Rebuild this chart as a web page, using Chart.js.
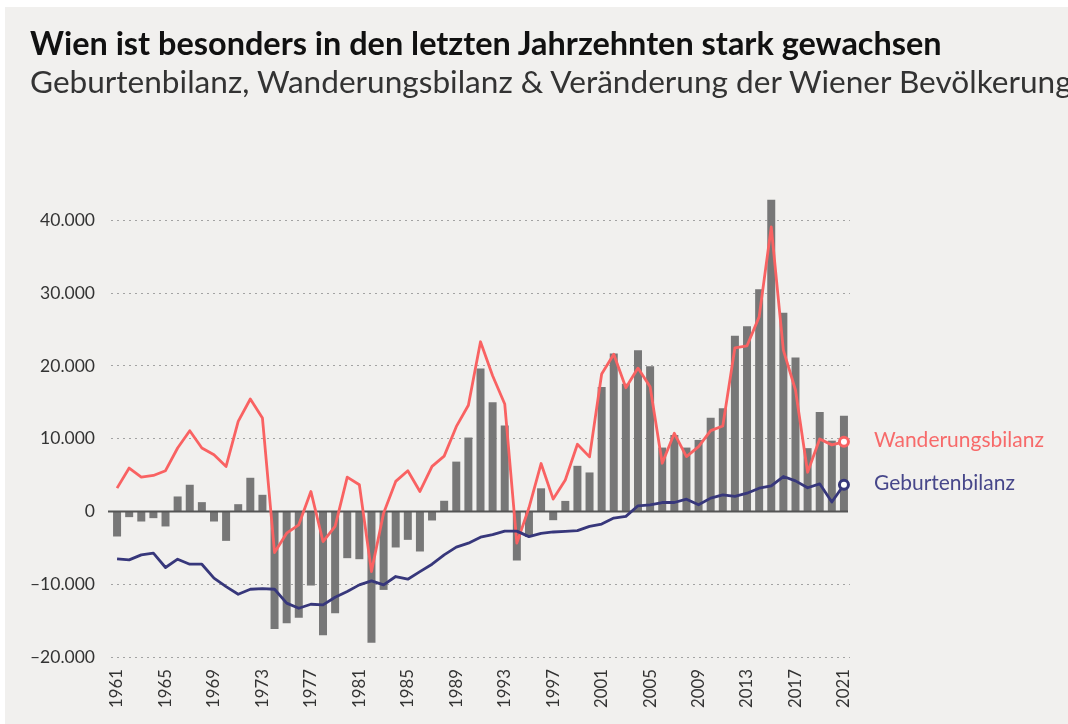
<!DOCTYPE html>
<html><head><meta charset="utf-8">
<script src="https://cdn.jsdelivr.net/npm/chart.js@4.4.1/dist/chart.umd.min.js"></script>
<style>
html,body{margin:0;padding:0;background:#fff;width:1068px;height:724px;overflow:hidden}
#card{position:absolute;left:5px;top:7px;right:0;bottom:0;background:#f1f0ee}
canvas{position:absolute;left:0;top:0}
.t{position:absolute;left:30px;white-space:nowrap;margin:0;font-family:Lato,"Open Sans",sans-serif}
#title{font-weight:700;color:#111}
#sub{font-weight:400;color:#333}
</style></head><body>
<div id="card"></div>
<canvas id="c" width="1068" height="724"></canvas>
<div id="title" class="t">Wien ist besonders in den letzten Jahrzehnten stark gewachsen</div>
<div id="sub" class="t">Geburtenbilanz, Wanderungsbilanz &amp; Veränderung der Wiener Bevölkerung</div>
<script>
const years = ['1961','1962','1963','1964','1965','1966','1967','1968','1969','1970',
'1971','1972','1973','1974','1975','1976','1977','1978','1979','1980',
'1981','1982','1983','1984','1985','1986','1987','1988','1989','1990',
'1991','1992','1993','1994','1995','1996','1997','1998','1999','2000',
'2001','2002','2003','2004','2005','2006','2007','2008','2009','2010',
'2011','2012','2013','2014','2015','2016','2017','2018','2019','2020','2021'];

const xTickLabels = ['1961','1965','1969','1973','1977','1981','1985','1989','1993','1997','2001','2005','2009','2013','2017','2021'];
const yTickValues = [-20000,-10000,0,10000,20000,30000,40000];
const yTickLabels = ['–20.000','–10.000','0','10.000','20.000','30.000','40.000'];

const veraenderung = [-3440,-780,-1380,-920,-2060,2060,3670,1280,-1380,-4040,
1000,4630,2290,-16150,-15370,-14590,-10180,-17020,-13990,-6420,
-6560,-18030,-10780,-4950,-3900,-5500,-1240,1470,6850,10160,
19650,15000,11820,-6740,-3500,3180,-1200,1450,6270,5360,
17100,21700,17550,22150,19970,8780,10510,8780,9830,12890,
14170,24140,25460,30540,42830,27290,21170,8700,13680,9730,13140];

const wanderung = [3210,5960,4720,4950,5600,8720,11100,8720,7800,6190,
12390,15460,12840,-5640,-2980,-1830,2750,-4130,-2060,4720,
3670,-8260,-230,4130,5600,2750,6190,7600,11650,14600,
23320,18640,14770,-4350,500,6590,1700,4320,9230,7500,
18900,21600,17000,19700,17140,6630,10740,7540,8910,11110,
11750,22490,22770,26740,39090,22170,16690,5390,9960,9150,9570];

const geburten = [-6510,-6650,-5960,-5730,-7700,-6560,-7250,-7250,-9170,-10320,
-11380,-10690,-10600,-10690,-12600,-13300,-12750,-12840,-11790,-11000,
-10090,-9540,-10090,-8940,-9310,-8260,-7250,-5960,-4900,-4360,
-3530,-3180,-2700,-2700,-3460,-3000,-2820,-2730,-2640,-2050,
-1730,-910,-680,780,910,1230,1230,1690,910,1830,
2290,2060,2510,3200,3520,4800,4200,3260,3800,1300,3670];

const RED = '#f96262', NAVY = '#37377b', BAR = '#777777';
const FAM = 'Lato, "Open Sans", sans-serif';
const mctx = document.createElement('canvas').getContext('2d');
function fit(text, weight, target){ mctx.font = weight+' 100px '+FAM; return 100*target/mctx.measureText(text).width; }
function place(el, text, weight, size, baseline){
  const L = Math.round(size*1.3);
  el.style.fontSize = size+'px'; el.style.lineHeight = L+'px';
  mctx.font = weight+' '+size+'px '+FAM;
  const m = mctx.measureText(text);
  const A = m.fontBoundingBoxAscent, D = m.fontBoundingBoxDescent;
  el.style.top = (baseline - ((L-(A+D))/2 + A))+'px';
}

function build(){
  const tS = fit('Wien ist besonders in den letzten Jahrzehnten stark gewachsen','700',913);
  place(document.getElementById('title'),'Wien','700',tS,55.5);
  const sS = fit('Geburtenbilanz, Wanderungsbilanz & Veränderung der Wiener Bevölkerung','400',1045);
  place(document.getElementById('sub'),'Geburtenbilanz','400',sS,93.5);

  const ySize = fit('40.000','400',55);
  const xSize = fit('1961','400',39);
  const lSize = fit('Wanderungsbilanz','400',170);
  const last = years.length-1;

  const zeroLine = {
    id:'zeroLine',
    beforeDatasetDraw(chart,args){
      if(args.index!==0) return;
      const ctx=chart.ctx, y=chart.scales.y.getPixelForValue(0), a=chart.chartArea;
      ctx.save(); ctx.strokeStyle='#555'; ctx.lineWidth=2;
      ctx.beginPath(); ctx.moveTo(a.left-3,y); ctx.lineTo(a.right-2,y); ctx.stroke(); ctx.restore();
    }
  };
  const endLabels = {
    id:'endLabels',
    afterDatasetsDraw(chart){
      const ctx=chart.ctx;
      ctx.save();
      ctx.font = '400 '+lSize+'px '+FAM;
      ctx.textBaseline='alphabetic'; ctx.textAlign='left';
      [0,1].forEach(i=>{
        const ds=chart.data.datasets[i];
        const pt=chart.getDatasetMeta(i).data[last];
        ctx.fillStyle = ds.labelColor;
        ctx.fillText(ds.label, pt.x+30, pt.y+5.5);
      });
      ctx.restore();
    }
  };

  new Chart(document.getElementById('c'),{
    data:{
      labels: years,
      datasets:[
        {type:'line',label:'Wanderungsbilanz',data:wanderung,borderColor:RED,labelColor:'#f76a6a',borderWidth:2.8,tension:0,
         borderJoinStyle:'round',pointRadius:c=>c.dataIndex===last?4.5:0,pointBackgroundColor:'#fff',pointBorderColor:RED,pointBorderWidth:3,order:1},
        {type:'line',label:'Geburtenbilanz',data:geburten,borderColor:NAVY,labelColor:'#47478a',borderWidth:2.8,tension:0,
         borderJoinStyle:'round',pointRadius:c=>c.dataIndex===last?4.5:0,pointBackgroundColor:'#fff',pointBorderColor:NAVY,pointBorderWidth:3,order:0},
        {type:'bar',label:'Veränderung der Bevölkerung',data:veraenderung,backgroundColor:BAR,barPercentage:0.66,categoryPercentage:1,order:2}
      ]
    },
    options:{
      responsive:false, animation:false,
      layout:{padding:{top:184,right:218,bottom:0,left:0}},
      plugins:{legend:{display:false},tooltip:{enabled:false},title:{display:false}},
      scales:{
        x:{
          offset:true,
          grid:{display:false,drawTicks:false},
          border:{display:false},
          ticks:{autoSkip:false,minRotation:90,maxRotation:90,padding:12,color:'#333',
            font:{family:FAM,size:xSize},
            callback:(v,i)=> xTickLabels.includes(years[i]) ? years[i] : ''},
          afterFit:s=>{s.height=67;}
        },
        y:{
          min:-20000,max:45000,
          afterBuildTicks:s=>{s.ticks = yTickValues.map(v=>({value:v}));},
          grid:{drawTicks:false,color:c=> c.tick && c.tick.value===0 ? 'rgba(0,0,0,0)' : '#a3a3a3',lineWidth:1},
          border:{display:false,dash:[2,4]},
          ticks:{padding:16,color:'#333',font:{family:FAM,size:ySize},
            callback:v=>{const i=yTickValues.indexOf(v); return i>=0?yTickLabels[i]:'';}},
          afterFit:s=>{s.width=111;}
        }
      }
    },
    plugins:[zeroLine,endLabels]
  });
}
Promise.all([document.fonts.load('700 20px Lato'),document.fonts.load('400 20px Lato')]).then(build,build);
</script>
</body></html>
